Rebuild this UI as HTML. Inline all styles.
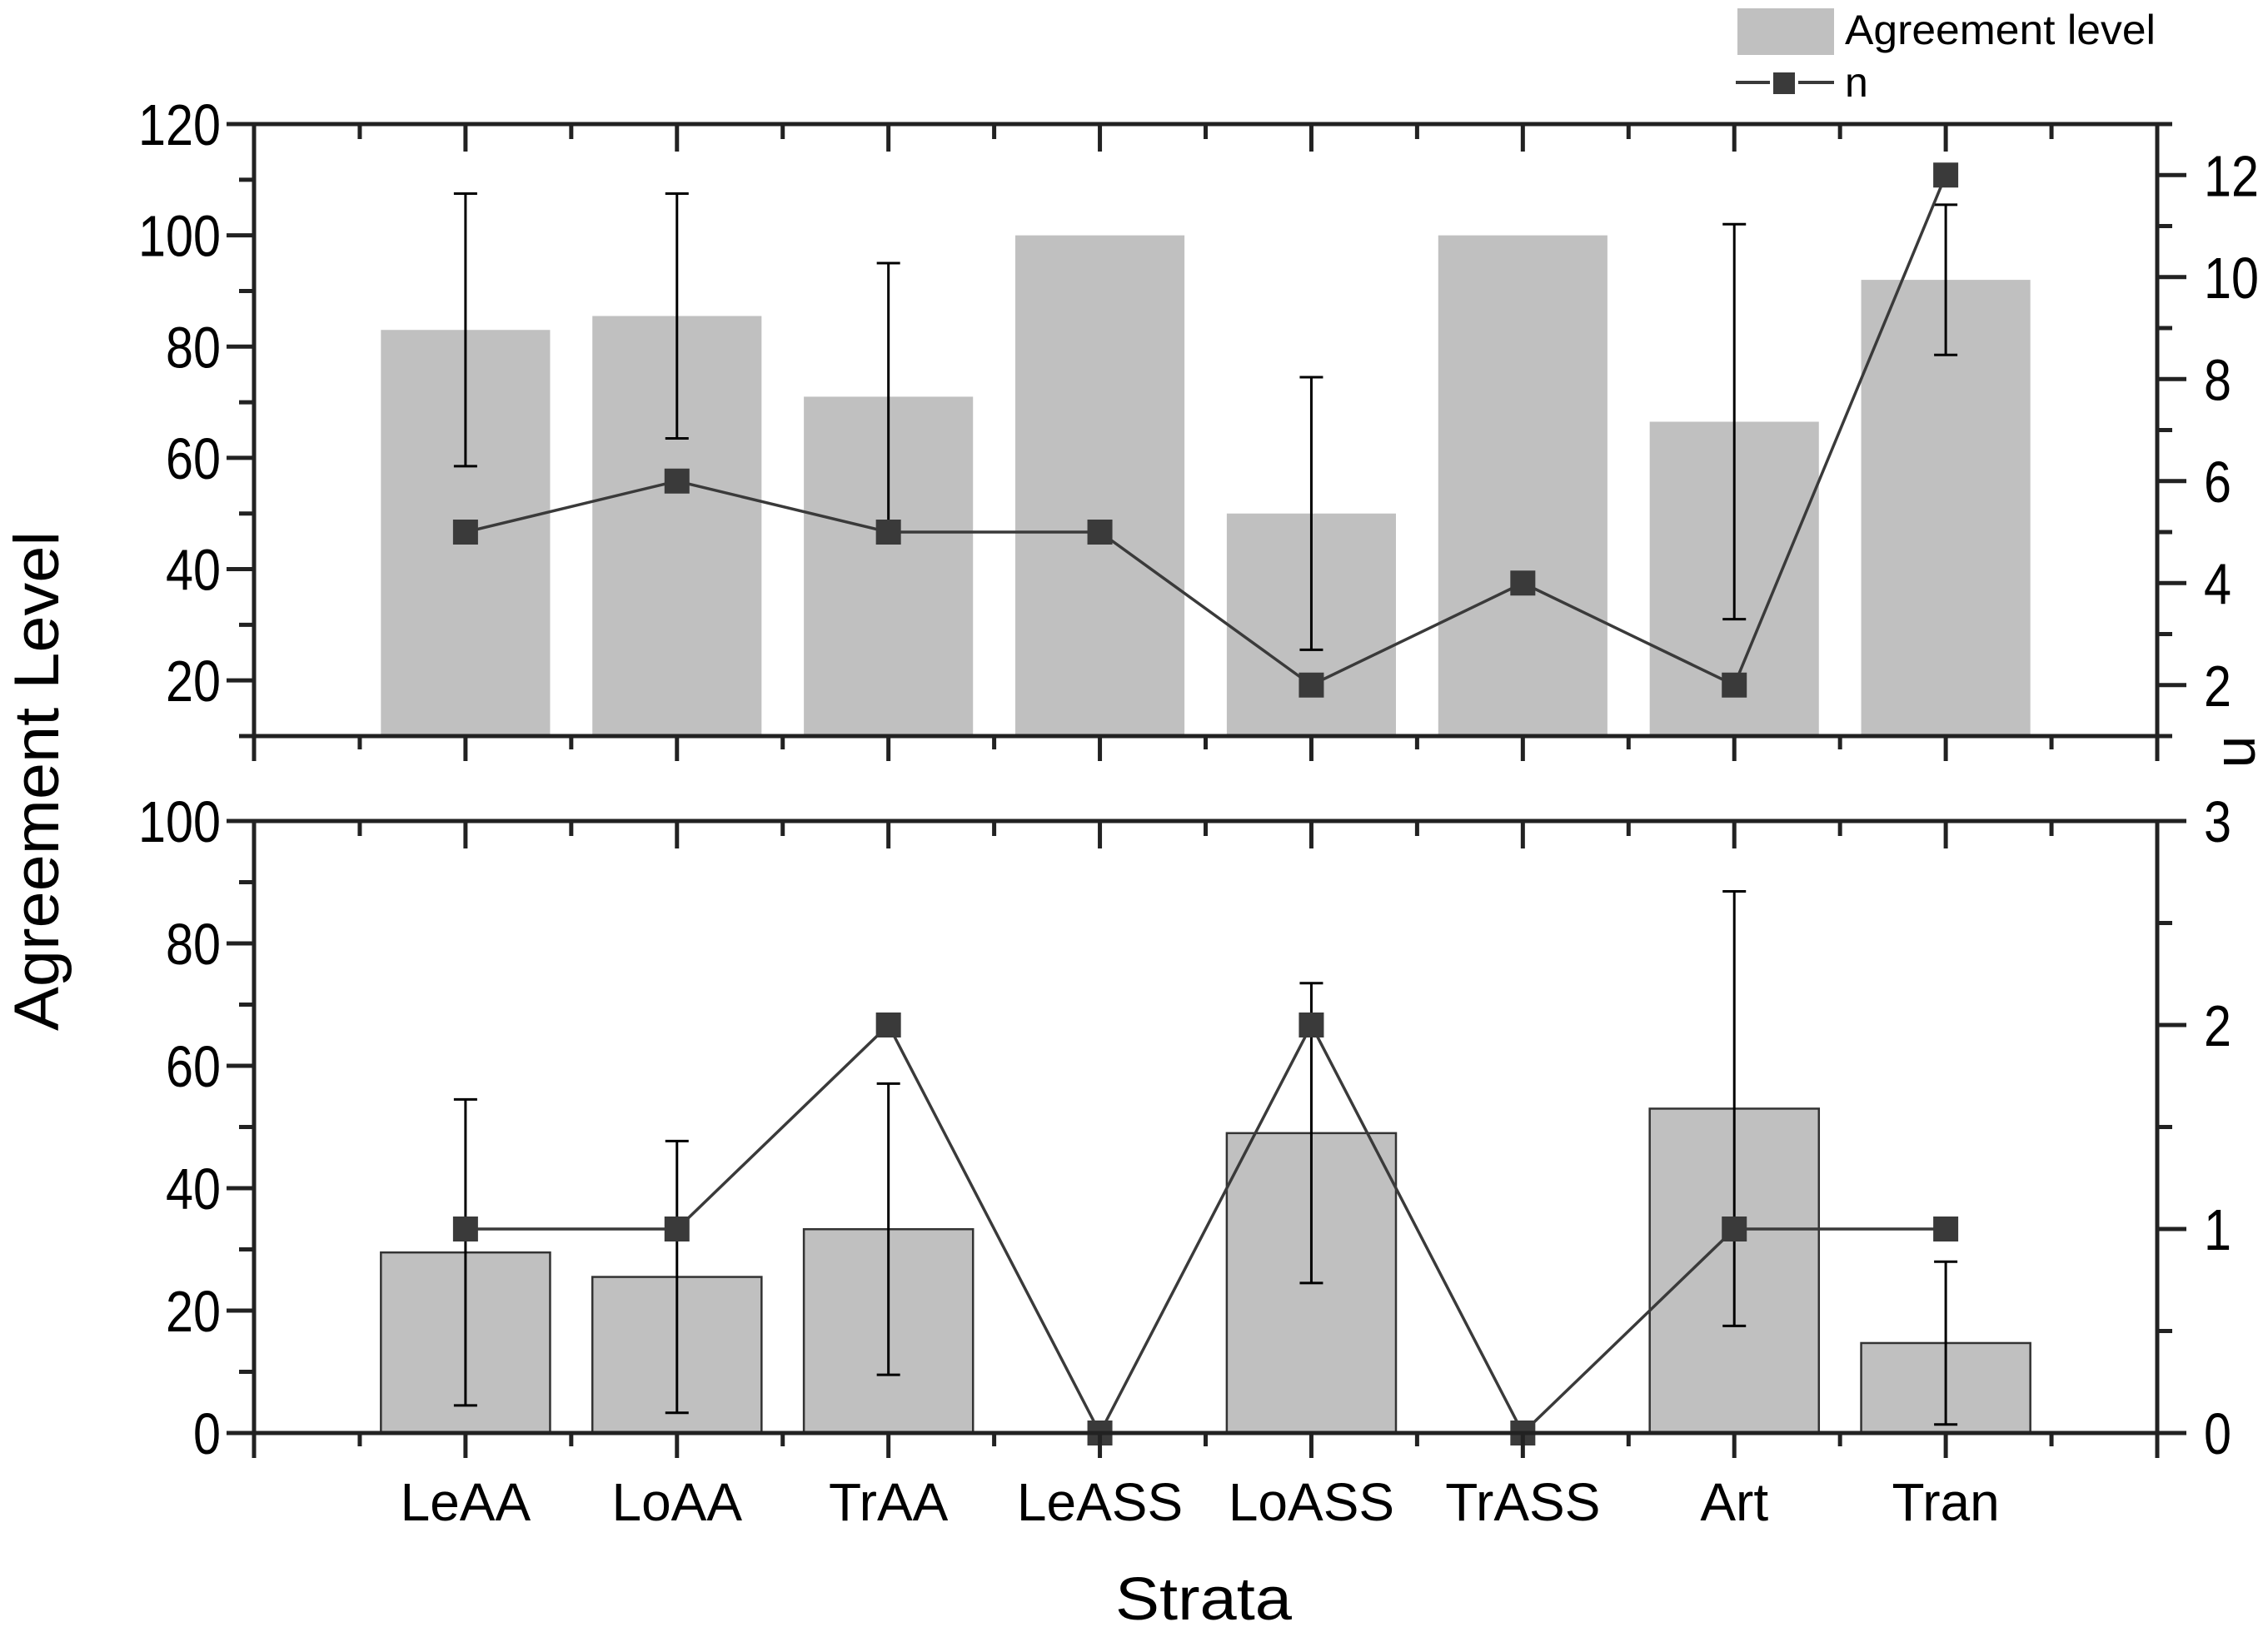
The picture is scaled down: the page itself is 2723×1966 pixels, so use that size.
<!DOCTYPE html>
<html><head><meta charset="utf-8"><style>html,body{margin:0;padding:0;background:#fff}svg{display:block}text{font-family:"Liberation Sans",sans-serif;fill:#000}</style></head>
<body>
<svg id="c" width="2723" height="1966" viewBox="0 0 2723 1966"></svg>
<script>
const categories=["LeAA","LoAA","TrAA","LeASS","LoASS","TrASS","Art","Tran"];
const topAgree=[83,85.5,71,100,50,100,66.5,92];
const topErr=[24.5,22,24,0,24.5,0,35.5,13.5];
const topN=[5,6,5,5,2,4,2,12];
const botAgree=[29.5,25.5,33.3,0,49,0,53,14.7];
const botErr=[25,22.2,23.8,0,24.5,0,35.5,13.3];
const botN=[1,1,2,0,2,0,1,1];
const topLeftTicks=[20,40,60,80,100,120];
const topRightTicks=[2,4,6,8,10,12];
const botLeftTicks=[0,20,40,60,80,100];
const botRightTicks=[0,1,2,3];

const NS="http://www.w3.org/2000/svg";
const svg=document.getElementById('c');
function mk(tag,attrs,parent){const e=document.createElementNS(NS,tag);for(const k in attrs)e.setAttribute(k,attrs[k]);(parent||svg).appendChild(e);return e;}
const X0=305,X1=2590;
const xs=i=>X0+(i+1)*(X1-X0)/9;
const barW=0.8*(X1-X0)/9;

const panels=[
 {y0:149,y1:884,lmin:10,lmax:120,rmin:1,rmax:13,agree:topAgree,err:topErr,n:topN,lt:topLeftTicks,rt:topRightTicks,lminor:10,rminor:1,outline:false,name:'top'},
 {y0:986,y1:1721,lmin:0,lmax:100,rmin:0,rmax:3,agree:botAgree,err:botErr,n:botN,lt:botLeftTicks,rt:botRightTicks,lminor:10,rminor:0.5,outline:true,name:'bottom'}
];
panels.forEach(p=>{
 const g=mk('g',{});
 
 
 const yl=v=>p.y1-(v-p.lmin)/(p.lmax-p.lmin)*(p.y1-p.y0);
 const yr=v=>p.y1-(v-p.rmin)/(p.rmax-p.rmin)*(p.y1-p.y0);
 p.agree.forEach((v,i)=>{
  if(v<=0)return;
  const r=mk('rect',{x:xs(i)-barW/2,y:yl(v),width:barW,height:p.y1-yl(v),fill:'#c0c0c0',stroke:p.outline?'#333':'none','stroke-width':p.outline?2.5:0},g);
  
  
 });
 p.agree.forEach((v,i)=>{
  const e=p.err[i]; if(!e)return;
  const eg=mk('g',{stroke:'#000','stroke-width':3,fill:'none'},g);
  
  
  const cx=xs(i);
  mk('line',{x1:cx,x2:cx,y1:yl(v+e),y2:yl(Math.max(v-e,p.lmin))},eg);
  mk('line',{x1:cx-14,x2:cx+14,y1:yl(v+e),y2:yl(v+e)},eg);
  if(v-e>p.lmin)mk('line',{x1:cx-14,x2:cx+14,y1:yl(v-e),y2:yl(v-e)},eg);
 });
 const pts=p.n.map((v,i)=>xs(i)+','+yr(v)).join(' ');
 const pl=mk('polyline',{points:pts,fill:'none',stroke:'#3a3a3a','stroke-width':3.5},g);
 
 
 p.n.forEach((v,i)=>{
  const m=mk('rect',{x:xs(i)-15,y:yr(v)-15,width:30,height:30,fill:'#3a3a3a'},g);
  
  
 });
 const ax=mk('g',{stroke:'#222','stroke-width':5,fill:'none'},g);
 
 
 mk('rect',{x:X0,y:p.y0,width:X1-X0,height:p.y1-p.y0},ax);
 for(let v=p.lmin;v<=p.lmax+0.001;v+=p.lminor){
  const major=p.lt.some(t=>Math.abs(t-v)<0.001);
  mk('line',{x1:X0,x2:X0-(major?33:18),y1:yl(v),y2:yl(v)},ax);
 }
 for(let v=Math.ceil(p.rmin/p.rminor)*p.rminor;v<=p.rmax+0.001;v+=p.rminor){
  const major=p.rt.some(t=>Math.abs(t-v)<0.001);
  mk('line',{x1:X1,x2:X1+(major?35:18),y1:yr(v),y2:yr(v)},ax);
 }
 for(let k=0;k<=18;k++){
  const x=X0+k*(X1-X0)/18; const major=k%2==0;
  mk('line',{x1:x,x2:x,y1:p.y0,y2:p.y0+(major?33:18)},ax);
  mk('line',{x1:x,x2:x,y1:p.y1,y2:p.y1+(major?30:16)},ax);
 }
 p.lt.forEach(t=>{
  const s=String(t);
  const tx=mk('text',{x:265,y:yl(t)+25,'font-size':70,'text-anchor':'end',textLength:s.length*33,lengthAdjust:'spacingAndGlyphs'},g);
  tx.textContent=s;
  
  
 });
 p.rt.forEach(t=>{
  const s=String(t);
  const tx=mk('text',{x:2646,y:yr(t)+25,'font-size':70,textLength:s.length*33,lengthAdjust:'spacingAndGlyphs'},g);
  tx.textContent=s;
  
  
 });
});
categories.forEach((c,i)=>{
 const t=mk('text',{x:xs(i),y:1826,'font-size':64,'text-anchor':'middle'});
 t.textContent=c;
 
 
});
</script>
<svg style="position:absolute;left:0;top:0" width="2723" height="1966">
 <text x="1445" y="1945" font-size="72" text-anchor="middle" textLength="212" lengthAdjust="spacingAndGlyphs">Strata</text>
 <text transform="translate(70,938) rotate(-90)" font-size="76" text-anchor="middle" textLength="600" lengthAdjust="spacingAndGlyphs">Agreement Level</text>
 <text transform="translate(2670,903) rotate(90)" font-size="70" text-anchor="middle">n</text>
 <g>
  <rect x="2086" y="10" width="116" height="56" fill="#c0c0c0"/>
  <text x="2215" y="53" font-size="50" textLength="373" lengthAdjust="spacingAndGlyphs">Agreement level</text>
  <line x1="2084" x2="2202" y1="99" y2="99" stroke="#3a3a3a" stroke-width="4"/>
  <rect x="2127" y="85" width="30" height="30" fill="#3a3a3a" stroke="#fff" stroke-width="4"/>
  <text x="2215" y="116" font-size="50">n</text>
 </g>
</svg>
</body></html>
